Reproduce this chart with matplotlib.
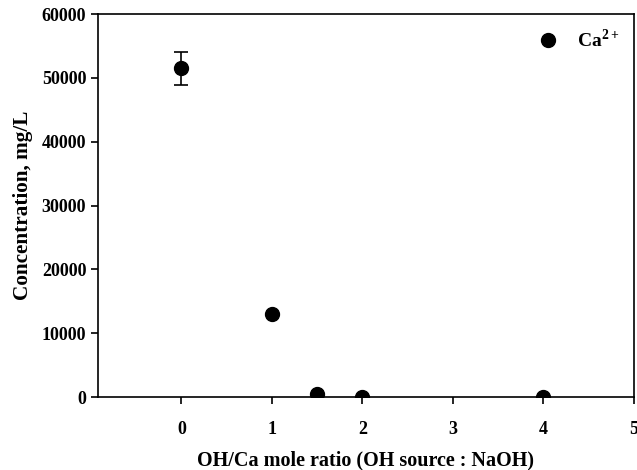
import numpy as np
import matplotlib
matplotlib.use("Agg")
import matplotlib.pyplot as plt

# OH/Ca mole ratio vs Ca2+ concentration (mg/L)
ratio = [0, 1, 1.5, 2, 4]
conc = [51500, 13000, 450, 0, 0]
conc_err = [2600, 0, 0, 0, 0]

plt.rcParams['font.family'] = ['Liberation Serif', 'DejaVu Serif']
plt.rcParams['font.weight'] = 'bold'
plt.rcParams['mathtext.fontset'] = 'custom'
plt.rcParams['mathtext.rm'] = 'Liberation Serif:bold'
plt.rcParams['mathtext.bf'] = 'Liberation Serif:bold'

fig = plt.figure(figsize=(6.37, 4.70), dpi=100)
ax = fig.add_axes([0.154, 0.155, 0.841, 0.815])

ax.errorbar(ratio, conc, yerr=conc_err, fmt='none', ecolor='black',
            elinewidth=1.2, capsize=5, capthick=1.2)
pts, = ax.plot(ratio, conc, 'o', color='black', ms=10, label='Ca$^{2+}$')

ax.set_xlim(-0.92, 5)
ax.set_ylim(0, 60000)
ax.set_xticks([0, 1, 2, 3, 4, 5])
ax.set_yticks(np.arange(0, 60001, 10000))
ax.tick_params(direction='out', length=5, width=1.2, labelsize=13)
ax.tick_params(axis='x', pad=12)
for lab in ax.get_xticklabels() + ax.get_yticklabels():
    lab.set_fontweight('bold')
for sp in ax.spines.values():
    sp.set_linewidth(1.2)

ax.set_xlabel('OH/Ca mole ratio (OH source : NaOH)', fontsize=14.5,
              fontweight='bold', labelpad=9)
ax.set_ylabel('Concentration, mg/L', fontsize=15.3, fontweight='bold',
              labelpad=6)

leg = ax.legend(handles=[pts], loc='upper right', bbox_to_anchor=(1.0, 0.998),
                frameon=False, fontsize=14, handlelength=1.0,
                handletextpad=1.0, borderaxespad=0.3)

fig.savefig('out.png', dpi=100)
